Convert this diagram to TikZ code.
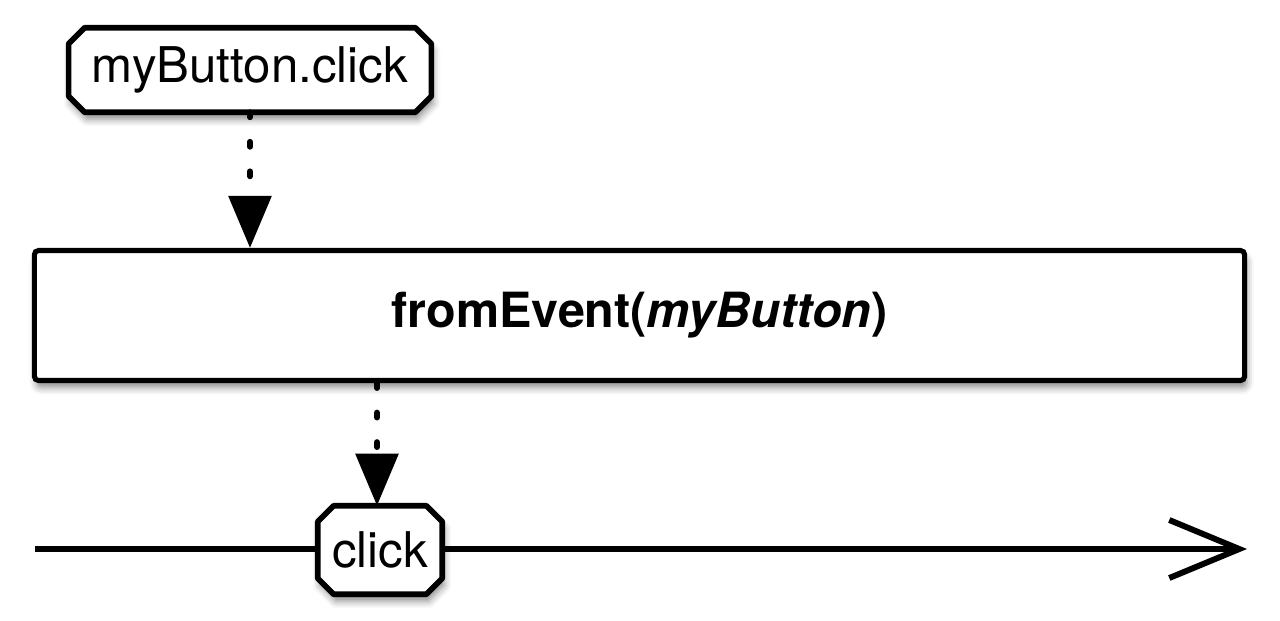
\documentclass[tikz,border=0pt]{standalone}
\usepackage{fontspec}
\setmainfont{TeX Gyre Heros}
\usetikzlibrary{arrows.meta, positioning, backgrounds, shadows.blur}

\begin{document}
\begin{tikzpicture}[
    x=0.025cm, y=-0.025cm,
    boxshadow/.style={blur shadow={shadow xshift=1.5pt, shadow yshift=-5pt, shadow blur radius=5pt, shadow opacity=45}},
    event/.style={inner sep=0pt, font=\fontsize{35}{41}\selectfont},
    eventframe/.style={draw, line width=4pt, line join=round, fill=white, boxshadow},
    operator/.style={draw, line width=3.6pt, fill=white, rounded corners=3pt, minimum width=30.25cm, minimum height=3.25cm, font=\fontsize{34.5}{40}\selectfont\bfseries, boxshadow},
    flow/.style={line width=4.2pt, line cap=round, dash pattern=on 3.5pt off 17.5pt, -{Triangle[length=1.3cm, width=1.05cm]}},
    timeline/.style={line width=4.2pt, -{Straight Barb[length=1.75cm, width=1.45cm]}}
]
\useasboundingbox (0,0) rectangle (1280,620);

\node[event, minimum width=9.05cm, minimum height=2.1cm] (source) at (250,70) {myButton.click};
\node[operator] (fromevent) at (639.5,315.5) {fromEvent(\textit{myButton})};
\node[event, minimum width=3.1cm, minimum height=2.2cm] (click) at (380,550) {click};

\coordinate (tl start) at (35,549);
\coordinate (tl end) at (1247,549);

\begin{scope}[on background layer]
\draw[timeline] (tl start) -- (tl end);
% chamfered frames behind the event labels
\foreach \n in {source, click}
  \draw[eventframe] ([xshift=0.4cm]\n.north west) -- ([xshift=-0.4cm]\n.north east)
    -- ([yshift=-0.4cm]\n.north east) -- ([yshift=0.4cm]\n.south east)
    -- ([xshift=-0.4cm]\n.south east) -- ([xshift=0.4cm]\n.south west)
    -- ([yshift=0.4cm]\n.south west) -- ([yshift=-0.4cm]\n.north west) -- cycle;
\end{scope}

\draw[flow] (source.south) -- (source.south |- fromevent.north);
\draw[flow] (fromevent.south -| 377,0) -- (click.north -| 377,0);

\end{tikzpicture}
\end{document}
